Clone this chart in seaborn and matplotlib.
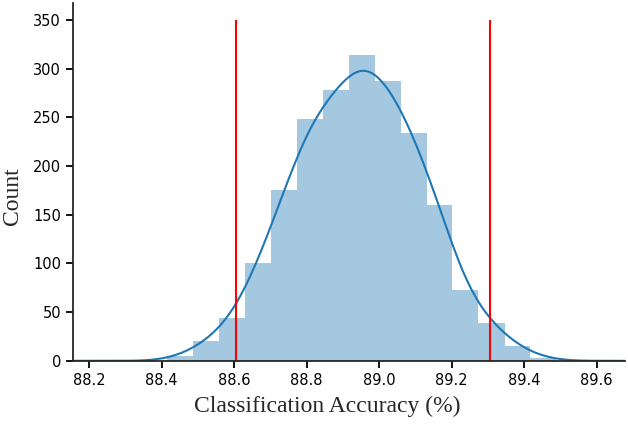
import numpy as np
import matplotlib
matplotlib.use("Agg")
import matplotlib.pyplot as plt
import seaborn as sns

# bin edges and counts
bin_edges = [88.415, 88.487, 88.559, 88.630, 88.702, 88.773, 88.845, 88.916,
             88.988, 89.059, 89.131, 89.202, 89.274, 89.346, 89.417, 89.489]
counts = [5, 20, 44, 100, 175, 248, 278, 314, 287, 234, 160, 73, 39, 15, 3]

# confidence bounds (red lines)
ci_low, ci_high = 88.605, 89.305
line_top = 350

bin_centers = [(a + b) / 2 for a, b in zip(bin_edges[:-1], bin_edges[1:])]

sns.set_style("ticks")
fig, ax = plt.subplots(figsize=(6.28, 4.26), dpi=100)
fig.subplots_adjust(left=0.116, right=0.995, top=0.993, bottom=0.153)

sns.histplot(x=bin_centers, weights=counts, bins=bin_edges, kde=True,
             color="#1f77b4", alpha=0.4, linewidth=0, ax=ax,
             kde_kws=dict(bw_adjust=0.45, cut=3.8),
             line_kws=dict(linewidth=1.5))

ax.vlines([ci_low, ci_high], 0, line_top, color="red", linewidth=1.5)

ax.set_xticks(np.arange(88.2, 89.61, 0.2))
ax.set_yticks(range(0, 351, 50))
ax.set_xlim(88.155, 89.678)
ax.set_ylim(0, 367.5)
ax.tick_params(labelsize=10.5, width=1.3, length=5, colors="black")
for s in ["left", "bottom"]:
    ax.spines[s].set_linewidth(1.3)
sns.despine(ax=ax)

ax.set_xlabel("Classification Accuracy (%)", family="Liberation Serif", fontsize=17)
ax.set_ylabel("Count", family="Liberation Serif", fontsize=17)
ax.xaxis.set_label_coords(0.46, -0.098)
ax.yaxis.set_label_coords(-0.09, 0.46)

fig.savefig("out.png", dpi=100)
